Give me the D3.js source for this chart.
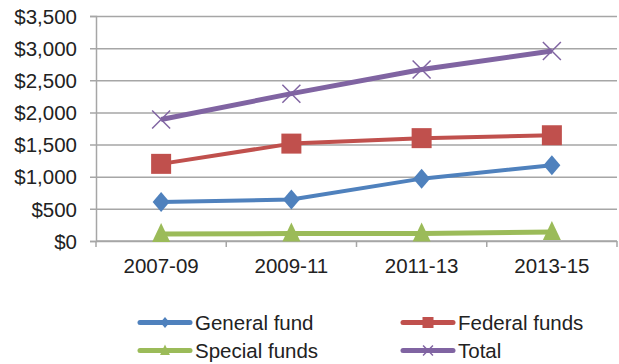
<!DOCTYPE html>
<html>
<head>
<meta charset="utf-8">
<script src="https://cdn.jsdelivr.net/npm/d3@7"></script>
<style>
  html, body { margin: 0; padding: 0; background: #fff; }
  svg { display: block; font-family: "Liberation Sans", Arial, sans-serif; }
</style>
</head>
<body>
<svg id="chart" width="619" height="364"></svg>
<script>
// Biennium categories and spending series (dollars, millions)
const periods = ["2007-09", "2009-11", "2011-13", "2013-15"];
const generalFund = [605, 645, 970, 1178];
const federalFunds = [1200, 1515, 1600, 1645];
const specialFunds = [110, 115, 115, 140];
const total = [1890, 2292, 2667, 2955];
const yTicks = [0, 500, 1000, 1500, 2000, 2500, 3000, 3500];

const series = [
  { name: "General fund", values: generalFund, color: "#4F81BD", marker: "diamond", width: 4 },
  { name: "Federal funds", values: federalFunds, color: "#C0504D", marker: "square", width: 4 },
  { name: "Special funds", values: specialFunds, color: "#9BBB59", marker: "triangle", width: 5 },
  { name: "Total", values: total, color: "#8064A2", marker: "x", width: 5 }
];

const svg = d3.select("#chart");
const margin = { left: 96, right: 2, top: 16, bottom: 123 };
const W = 619, H = 364;
const fontSize = "20.5px";

const x = d3.scaleBand().domain(periods).range([margin.left, W - margin.right]);
const y = d3.scaleLinear().domain([0, 3500]).range([H - margin.bottom, margin.top]);

const grid = "#a6a6a6";

// horizontal gridlines with y axis labels
const yAxis = d3.axisLeft(y).tickValues(yTicks).tickSize(6)
  .tickFormat(d => "$" + d3.format(",")(d));
const gy = svg.append("g").attr("transform", `translate(${margin.left},0)`).call(yAxis);
gy.select(".domain").attr("stroke", grid).attr("stroke-width", 1.5);
gy.selectAll(".tick line").attr("stroke", grid).attr("stroke-width", 1.5)
  .attr("x1", W - margin.right - margin.left);
gy.selectAll(".tick text").attr("x", -19).attr("fill", "#222")
  .style("font-size", fontSize).attr("dy", "0.35em");

// x axis with tick marks between categories
const gx = svg.append("g").attr("transform", `translate(0,${y(0)})`);
gx.append("line").attr("x1", margin.left).attr("x2", W - margin.right)
  .attr("stroke", grid).attr("stroke-width", 1.5);
const bounds = periods.map(p => x(p)).concat([x(periods[periods.length - 1]) + x.bandwidth()]);
gx.selectAll("line.tk").data(bounds).join("line").attr("class", "tk")
  .attr("x1", d => d).attr("x2", d => d).attr("y1", 0).attr("y2", 6)
  .attr("stroke", grid).attr("stroke-width", 1.5);
gx.selectAll("text").data(periods).join("text")
  .attr("x", d => x(d) + x.bandwidth() / 2).attr("y", 32)
  .attr("text-anchor", "middle").attr("fill", "#222").style("font-size", fontSize)
  .text(d => d);

const cx = d => x(d) + x.bandwidth() / 2;

function drawMarker(g, type, color, px, py, k) {
  if (type === "diamond") {
    g.append("path").attr("d", `M${px},${py - 10 * k}L${px + 8.5 * k},${py}L${px},${py + 10 * k}L${px - 8.5 * k},${py}Z`)
      .attr("fill", color);
  } else if (type === "square") {
    g.append("rect").attr("x", px - 10 * k).attr("y", py - 10 * k).attr("width", 20 * k).attr("height", 20 * k)
      .attr("fill", color);
  } else if (type === "triangle") {
    g.append("path").attr("d", `M${px},${py - 11 * k}L${px + 9 * k},${py + 8 * k}L${px - 9 * k},${py + 8 * k}Z`)
      .attr("fill", color);
  } else if (type === "x") {
    g.append("path").attr("d", `M${px - 9 * k},${py - 9 * k}L${px + 9 * k},${py + 9 * k}M${px + 9 * k},${py - 9 * k}L${px - 9 * k},${py + 9 * k}`)
      .attr("stroke", color).attr("stroke-width", 1.5).attr("fill", "none");
  }
}

const line = d3.line().x(d => cx(d.p)).y(d => y(d.v));

// draw from bottom series up so Total sits on top
series.forEach(s => {
  const pts = periods.map((p, i) => ({ p, v: s.values[i] }));
  const g = svg.append("g");
  g.append("path").datum(pts).attr("d", line).attr("fill", "none")
    .attr("stroke", s.color).attr("stroke-width", s.width).attr("stroke-linejoin", "round");
  pts.forEach(d => drawMarker(g, s.marker, s.color, cx(d.p), y(d.v), 1));
});

// legend, two columns by two rows
const legendPos = [
  { x: 138, y: 322.5 }, { x: 401, y: 322.5 },
  { x: 138, y: 350.5 }, { x: 401, y: 350.5 }
];
series.forEach((s, i) => {
  const lp = legendPos[i];
  const g = svg.append("g");
  g.append("line").attr("x1", lp.x + 2).attr("x2", lp.x + 52).attr("y1", lp.y).attr("y2", lp.y)
    .attr("stroke", s.color).attr("stroke-width", 5).attr("stroke-linecap", "round");
  drawMarker(g, s.marker, s.color, lp.x + 27, lp.y, 0.55);
  g.append("text").attr("x", lp.x + 57).attr("y", lp.y).attr("dy", "0.36em")
    .attr("fill", "#222").style("font-size", fontSize).text(s.name);
});
</script>
</body>
</html>
